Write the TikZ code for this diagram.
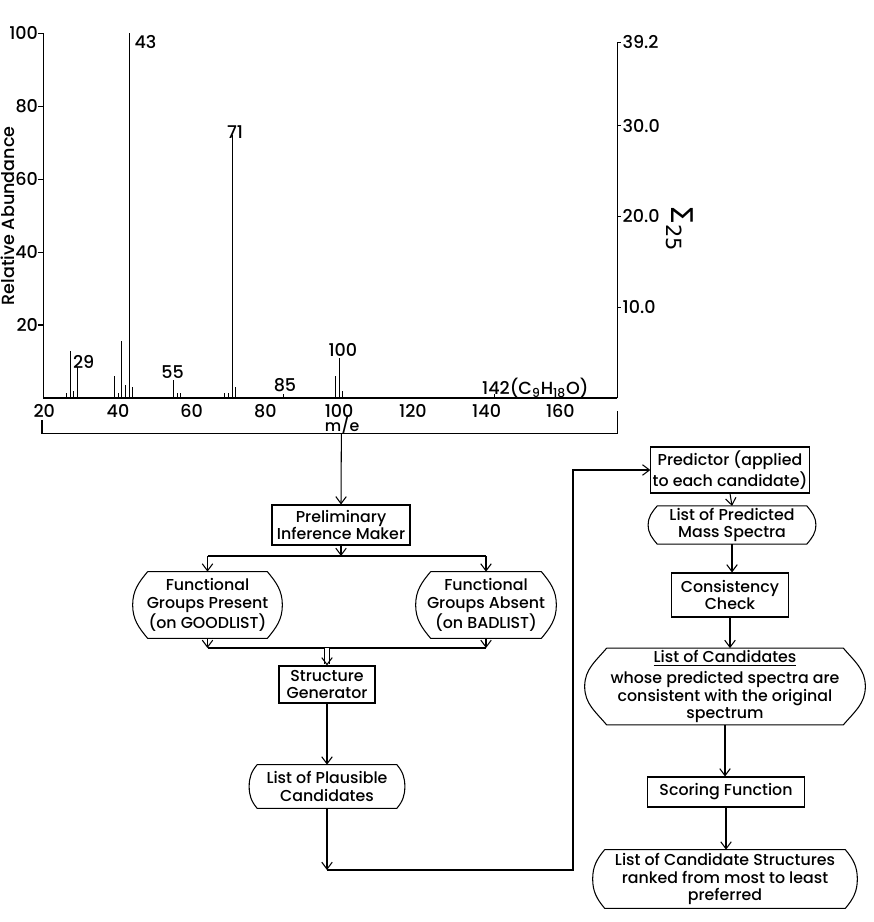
\documentclass[tikz,border=0pt]{standalone}
\usepackage{fontspec}
\setmainfont{Poppins Medium}
\newfontfamily\greekfont{DejaVu Sans}
\usetikzlibrary{arrows.meta}

\newcommand\boxfont{\fontsize{9}{10}\selectfont}
\newcommand\axisfont{\fontsize{10}{12}\selectfont}

\tikzset{
	box/.style={draw, line width=0.6pt, align=center, inner sep=1pt, font=\boxfont},
	listbox/.style={align=center, inner sep=1pt, font=\boxfont,
		append after command={\pgfextra{\draw[line width=0.6pt]
			([xshift=#1]\tikzlastnode.north west) -- ([xshift=-#1]\tikzlastnode.north east)
			to[out=-50,in=90] (\tikzlastnode.east)
			to[out=-90,in=50] ([xshift=-#1]\tikzlastnode.south east)
			-- ([xshift=#1]\tikzlastnode.south west)
			to[out=130,in=-90] (\tikzlastnode.west)
			to[out=90,in=230] ([xshift=#1]\tikzlastnode.north west);}}},
	listbox/.default=0.2cm,
	link/.style={line width=0.6pt},
	arrow/.style={line width=0.6pt, -{Straight Barb[length=4pt,width=6pt]}},
	peak/.style={line width=0.5pt},
}

\begin{document}
\begin{tikzpicture}[x=0.02cm, y=0.02cm]
	\useasboundingbox (0,0) rectangle (874,-922);

	\begin{scope}[shift={(-29.5,-398)}, x=0.07374cm, y=0.073cm, font=\axisfont]
		% Draw the axes
		\draw[line width=1.1pt] (19.7,0) -- (175.4,0);
		\draw[link] (19.7,0) -- (19.7,100);
		\draw[link] (175.4,0) -- (175.4,97.5);
		\foreach \v in {20,40,60,80,100} {
			\draw[link] (18.3,\v) -- (19.7,\v);
			\node[anchor=east, inner sep=0pt] at (18.4,\v) {\v};
		}
		\foreach \v in {10.0,20.0,30.0,39.2} {
			\draw[link] (175.4,\v*2.487) -- (176.5,\v*2.487);
			\node[anchor=west, inner sep=0pt] at (176.8,\v*2.487) {\v};
		}
		\foreach \m in {20,40,...,160}
			\node[inner sep=0pt] at (\m,-3.5) {\m};
		\node[inner sep=0pt, font=\boxfont] (me) at (100.8,-7.6) {m/e};
		\node[rotate=90, inner sep=0pt] (ra) at (10.2,49.9) {Relative Abundance};
		\node[rotate=-90, inner sep=0pt, font=\greekfont\fontsize{17}{17}\selectfont] (sum) at (192.5,46.5) {Σ\textsubscript{25}};

		% Draw the bracket under the m/e scale
		\draw[link] (19.4,-6) -- (19.4,-9.6) -- (175.4,-9.6) -- (175.4,-3.6);
		\coordinate (brk) at (100.6,-9.6);

		% Draw the peaks
		\foreach \m/\a in {26/1.5, 27/13, 28/2, 29/8.5, 39/6, 40/1.5, 41/15.5, 42/3.5, 43/100, 44/3,
				55/5, 56/1.5, 57/1.5, 69/1.5, 70/1.5, 71/72, 72/3, 85/1.2, 99/6, 100/11, 101/2, 142/1.2}
			\draw[peak] (\m,0) -- (\m,\a);
		\node[anchor=west, inner sep=0pt] (p43) at (44.4,97.5) {43};
		\node[inner sep=0pt] (p71) at (71.75,72.9) {71};
		\node[inner sep=0pt] (p29) at (30.7,10) {29};
		\node[inner sep=0pt] (p55) at (54.8,7) {55};
		\node[inner sep=0pt] (p85) at (85.3,3.6) {85};
		\node[inner sep=0pt] (p100) at (101,13.2) {100};
		\node[anchor=west, inner sep=0pt] (p142) at (138.7,2.7) {142(C\textsubscript{9}H\textsubscript{18}O)};
	\end{scope}

	% Left column
	\node[box, minimum width=2.76cm, minimum height=0.8cm] (pim) at (341,-525) {Preliminary\\Inference Maker};
	\node[listbox=0.3cm, minimum width=2.98cm, minimum height=1.32cm] (fgp) at (207.5,-605) {Functional\\Groups Present\\(on GOODLIST)};
	\node[listbox=0.3cm, minimum width=2.8cm, minimum height=1.32cm] (fga) at (486,-605) {Functional\\Groups Absent\\(on BADLIST)};
	\node[box, minimum width=1.92cm, minimum height=0.74cm] (sg) at (327,-684.5) {Structure\\Generator};
	\node[listbox=0.16cm, minimum width=3.1cm, minimum height=0.86cm] (lpc) at (327,-786.5) {List of Plausible\\Candidates};

	% Right column
	\node[box, minimum width=3.06cm, minimum height=0.92cm] (pred) at (730,-470) {Predictor (applied\\to each candidate)};
	\node[listbox=0.18cm, minimum width=3.34cm, minimum height=0.64cm] (lpms) at (732,-525) {List of Predicted\\Mass Spectra};
	\node[box, minimum width=2.34cm, minimum height=0.88cm] (cc) at (730,-595) {Consistency\\Check};
	\node[listbox=0.44cm, minimum width=5.6cm, minimum height=1.46cm] (loc) at (725,-686.5) {\underline{List of Candidates}\\[2pt]whose predicted spectra are\\consistent with the original\\spectrum};
	\node[box, minimum width=3.14cm, minimum height=0.6cm] (sf) at (726,-792) {Scoring Function};
	\node[listbox=0.24cm, minimum width=5.28cm, minimum height=1.16cm] (lcs) at (725,-879) {List of Candidate Structures\\ranked from most to least\\preferred};

	% Draw the connectors
	\coordinate (split) at (341,-556);
	\coordinate (merge) at (330,-648);
	\coordinate (back) at (573,-870);
	\draw[arrow] (brk) -- (pim.north);
	\draw[arrow] (pim.south) -- (split);
	\draw[link] (fgp.north |- split) -- (fga.north |- split);
	\draw[arrow] (fgp.north |- split) -- (fgp.north);
	\draw[arrow] (fga.north |- split) -- (fga.north);
	\draw[arrow] (fgp.south) -- (fgp.south |- merge);
	\draw[arrow] (fga.south) -- (fga.south |- merge);
	\draw[link] (fgp.south |- merge) -- (fga.south |- merge);
	\draw[arrow, double, double distance=2pt] (sg.north |- merge) -- (sg.north);
	\draw[arrow] (sg.south) -- (lpc.north);
	\draw[arrow] (lpc.south) -- (lpc.south |- back);
	\draw[arrow] (lpc.south |- back) -- (back) |- (pred.west);
	\draw[arrow] (pred.south) -- (lpms.north);
	\draw[arrow] (lpms.south) -- (lpms.south |- cc.north);
	\draw[arrow] (cc.south) -- (cc.south |- loc.north);
	\draw[arrow] (loc.south) -- (loc.south |- sf.north);
	\draw[arrow] (sf.south) -- (sf.south |- lcs.north);
\end{tikzpicture}
\end{document}
